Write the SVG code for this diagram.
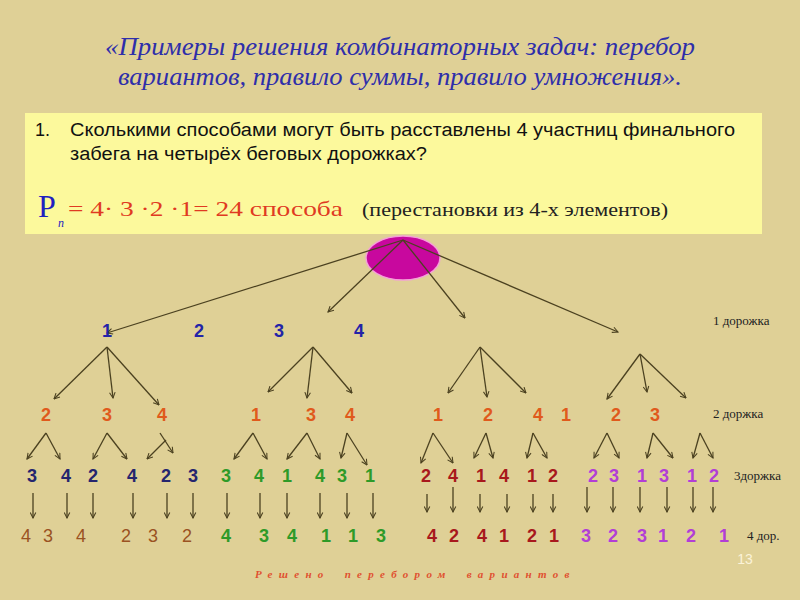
<svg xmlns="http://www.w3.org/2000/svg" width="800" height="600" viewBox="0 0 800 600">
<style>
.title{font-family:"Liberation Serif",serif;font-style:italic;font-size:25px;fill:#2e2eaa}
.q{font-family:"Liberation Sans",sans-serif;font-size:18px;fill:#111}
.n{font-family:"Liberation Sans",sans-serif;font-weight:bold;font-size:18px;text-anchor:middle}
.n4{font-family:"Liberation Sans",sans-serif;font-size:18px;text-anchor:middle}
.lbl{font-family:"Liberation Serif",serif;font-size:13px;fill:#222}
.blue{fill:#2323a8}
.orange{fill:#e05a1c}
.navy{fill:#25256e}
.green{fill:#2e9a28}
.dred{fill:#a8181c}
.purple{fill:#b23ed6}
.brown{fill:#9a5222}
.c line{stroke:#4b4120;stroke-width:1.3;marker-end:url(#ah)}
</style>
<defs>
<marker id="ah" viewBox="0 0 10 10" refX="9" refY="5" markerWidth="7" markerHeight="7" orient="auto" markerUnits="userSpaceOnUse">
<path d="M1,1 L9,5 L1,9" fill="none" stroke="#4b4120" stroke-width="1.5"/>
</marker>
</defs>
<rect width="800" height="600" fill="#dfd096"/>
<g id="title">
<text class="title" x="105" y="55" textLength="590" lengthAdjust="spacingAndGlyphs">«Примеры решения комбинаторных задач: перебор</text>
<text class="title" x="118" y="85" textLength="564" lengthAdjust="spacingAndGlyphs">вариантов, правило суммы, правило умножения».</text>
</g>
<g id="task">
<rect x="25" y="113" width="737" height="121" fill="#fcf99c"/>
<text class="q" x="35" y="136">1.</text>
<text class="q" x="70" y="136" textLength="665" lengthAdjust="spacingAndGlyphs">Сколькими способами могут быть расставлены 4 участниц финального</text>
<text class="q" x="70" y="160" textLength="357" lengthAdjust="spacingAndGlyphs">забега на четырёх беговых дорожках?</text>
<text x="38" y="217" font-family="Liberation Serif, serif" font-size="32" fill="#2020c0">P</text>
<text x="58" y="227" font-family="Liberation Serif, serif" font-style="italic" font-size="12" fill="#2020c0">n</text>
<text x="68" y="216" font-family="Liberation Serif, serif" font-size="22" fill="#e03a22" textLength="275" lengthAdjust="spacingAndGlyphs">= 4· 3 ·2 ·1= 24 способа</text>
<text x="362" y="216" font-family="Liberation Serif, serif" font-size="18" fill="#222" textLength="306" lengthAdjust="spacingAndGlyphs">(перестановки из 4-х элементов)</text>
</g>
<g id="root">
<ellipse cx="403" cy="258" rx="37" ry="22" fill="#c8089e" stroke="#f4a0d8" stroke-width="1.5"/>
</g>
<g id="connectors" class="c">
<line x1="403" y1="240" x2="107" y2="333"/>
<line x1="403" y1="240" x2="328" y2="312"/>
<line x1="403" y1="240" x2="465" y2="318"/>
<line x1="403" y1="240" x2="618" y2="332"/>

<line x1="107" y1="347" x2="54" y2="399"/>
<line x1="107" y1="347" x2="113" y2="398"/>
<line x1="107" y1="347" x2="159" y2="405"/>
<line x1="313" y1="347" x2="268" y2="392"/>
<line x1="313" y1="347" x2="307" y2="398"/>
<line x1="313" y1="347" x2="352" y2="393"/>
<line x1="480" y1="347" x2="448" y2="393"/>
<line x1="480" y1="347" x2="487" y2="397"/>
<line x1="480" y1="347" x2="526" y2="393"/>
<line x1="640" y1="354" x2="607" y2="399"/>
<line x1="640" y1="354" x2="647" y2="392"/>
<line x1="640" y1="354" x2="686" y2="398"/>

<line x1="46" y1="433" x2="27" y2="459"/>
<line x1="46" y1="433" x2="60" y2="459"/>
<line x1="107" y1="433" x2="93" y2="459"/>
<line x1="107" y1="433" x2="127" y2="459"/>
<line x1="166" y1="440" x2="147" y2="459"/>
<line x1="160" y1="433" x2="173" y2="453"/>
<line x1="253" y1="433" x2="234" y2="459"/>
<line x1="253" y1="433" x2="267" y2="459"/>
<line x1="307" y1="433" x2="287" y2="459"/>
<line x1="307" y1="433" x2="320" y2="459"/>
<line x1="347" y1="433" x2="341" y2="458"/>
<line x1="347" y1="433" x2="367" y2="465"/>
<line x1="433" y1="433" x2="421" y2="463"/>
<line x1="433" y1="433" x2="453" y2="463"/>
<line x1="486" y1="433" x2="474" y2="458"/>
<line x1="486" y1="433" x2="493" y2="458"/>
<line x1="533" y1="433" x2="527" y2="458"/>
<line x1="533" y1="433" x2="547" y2="458"/>
<line x1="607" y1="433" x2="594" y2="458"/>
<line x1="607" y1="433" x2="619" y2="458"/>
<line x1="653" y1="433" x2="647" y2="458"/>
<line x1="653" y1="433" x2="673" y2="458"/>
<line x1="700" y1="433" x2="693" y2="458"/>
<line x1="700" y1="433" x2="713" y2="458"/>

<line x1="33" y1="493" x2="33" y2="518"/>
<line x1="67" y1="493" x2="67" y2="518"/>
<line x1="93" y1="493" x2="93" y2="518"/>
<line x1="133" y1="493" x2="133" y2="518"/>
<line x1="167" y1="493" x2="167" y2="518"/>
<line x1="193" y1="493" x2="193" y2="518"/>
<line x1="227" y1="493" x2="227" y2="518"/>
<line x1="260" y1="493" x2="260" y2="518"/>
<line x1="287" y1="493" x2="287" y2="518"/>
<line x1="320" y1="493" x2="320" y2="518"/>
<line x1="347" y1="493" x2="347" y2="518"/>
<line x1="373" y1="493" x2="373" y2="518"/>

<line x1="427" y1="494" x2="427" y2="512"/>
<line x1="453" y1="487" x2="453" y2="512"/>
<line x1="480" y1="494" x2="480" y2="512"/>
<line x1="507" y1="494" x2="507" y2="512"/>
<line x1="533" y1="494" x2="533" y2="512"/>
<line x1="553" y1="494" x2="553" y2="512"/>
<line x1="587" y1="487" x2="587" y2="512"/>
<line x1="613" y1="487" x2="613" y2="512"/>
<line x1="640" y1="487" x2="640" y2="512"/>
<line x1="667" y1="487" x2="667" y2="512"/>
<line x1="693" y1="487" x2="693" y2="512"/>
<line x1="713" y1="487" x2="713" y2="512"/>
</g>
<g id="level1">
<text class="n blue" x="107" y="337">1</text>
<text class="n blue" x="199" y="337">2</text>
<text class="n blue" x="279" y="337">3</text>
<text class="n blue" x="359" y="337">4</text>
<text class="lbl" x="713" y="325">1 дорожка</text>
</g>
<g id="level2">
<text class="n orange" x="46" y="421">2</text>
<text class="n orange" x="107" y="421">3</text>
<text class="n orange" x="162" y="421">4</text>
<text class="n orange" x="256" y="421">1</text>
<text class="n orange" x="311" y="421">3</text>
<text class="n orange" x="350" y="421">4</text>
<text class="n orange" x="438" y="421">1</text>
<text class="n orange" x="488" y="421">2</text>
<text class="n orange" x="538" y="421">4</text>
<text class="n orange" x="566" y="421">1</text>
<text class="n orange" x="616" y="421">2</text>
<text class="n orange" x="655" y="421">3</text>
<text class="lbl" x="713" y="418">2 доржка</text>
</g>
<g id="level3">
<text class="n navy" x="32" y="482">3</text>
<text class="n navy" x="66" y="482">4</text>
<text class="n navy" x="93" y="482">2</text>
<text class="n navy" x="132" y="482">4</text>
<text class="n navy" x="166" y="482">2</text>
<text class="n navy" x="193" y="482">3</text>
<text class="n green" x="226" y="482">3</text>
<text class="n green" x="259" y="482">4</text>
<text class="n green" x="287" y="482">1</text>
<text class="n green" x="320" y="482">4</text>
<text class="n green" x="342" y="482">3</text>
<text class="n green" x="370" y="482">1</text>
<text class="n dred" x="426" y="482">2</text>
<text class="n dred" x="453" y="482">4</text>
<text class="n dred" x="481" y="482">1</text>
<text class="n dred" x="504" y="482">4</text>
<text class="n dred" x="532" y="482">1</text>
<text class="n dred" x="553" y="482">2</text>
<text class="n purple" x="593" y="482">2</text>
<text class="n purple" x="614" y="482">3</text>
<text class="n purple" x="642" y="482">1</text>
<text class="n purple" x="664" y="482">3</text>
<text class="n purple" x="692" y="482">1</text>
<text class="n purple" x="714" y="482">2</text>
<text class="lbl" x="734" y="480">3доржка</text>
</g>
<g id="level4">
<text class="n4 brown" x="26" y="542">4</text>
<text class="n4 brown" x="48" y="542">3</text>
<text class="n4 brown" x="81" y="542">4</text>
<text class="n4 brown" x="126" y="542">2</text>
<text class="n4 brown" x="153" y="542">3</text>
<text class="n4 brown" x="187" y="542">2</text>
<text class="n green" x="226" y="542">4</text>
<text class="n green" x="264" y="542">3</text>
<text class="n green" x="292" y="542">4</text>
<text class="n green" x="326" y="542">1</text>
<text class="n green" x="353" y="542">1</text>
<text class="n green" x="381" y="542">3</text>
<text class="n dred" x="432" y="542">4</text>
<text class="n dred" x="454" y="542">2</text>
<text class="n dred" x="482" y="542">4</text>
<text class="n dred" x="504" y="542">1</text>
<text class="n dred" x="532" y="542">2</text>
<text class="n dred" x="554" y="542">1</text>
<text class="n purple" x="586" y="542">3</text>
<text class="n purple" x="613" y="542">2</text>
<text class="n purple" x="642" y="542">3</text>
<text class="n purple" x="663" y="542">1</text>
<text class="n purple" x="691" y="542">2</text>
<text class="n purple" x="724" y="542">1</text>
<text class="lbl" x="747" y="540">4 дор.</text>
</g>
<g id="footer">
<text x="745" y="564" font-family="Liberation Sans, sans-serif" font-size="14" fill="#fbf3d8" text-anchor="middle">13</text>
<text x="255" y="578" font-family="Liberation Serif, serif" font-style="italic" font-weight="bold" font-size="11" fill="#e05030" letter-spacing="6.3" word-spacing="6">Решено перебором вариантов</text>
</g>
</svg>
